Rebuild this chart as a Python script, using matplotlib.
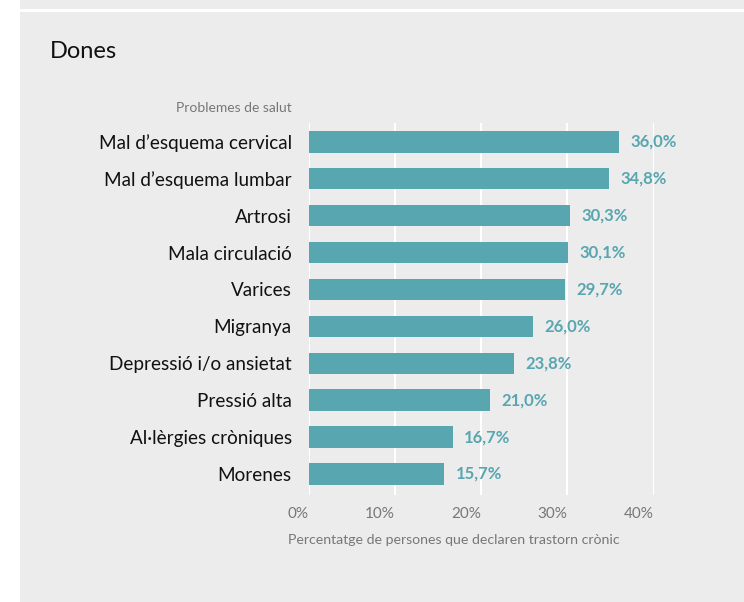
import matplotlib
matplotlib.use("Agg")
import matplotlib.pyplot as plt
from matplotlib.patches import Rectangle

categories = ["Mal d’esquema cervical", "Mal d’esquema lumbar", "Artrosi", "Mala circulació",
              "Varices", "Migranya", "Depressió i/o ansietat", "Pressió alta",
              "Al·lèrgies cròniques", "Morenes"]
values = [36.0, 34.8, 30.3, 30.1, 29.7, 26.0, 23.8, 21.0, 16.7, 15.7]
xticks = [0, 10, 20, 30, 40]
xticklabels = ["0%", "10%", "20%", "30%", "40%"]

plt.rcParams['font.family'] = ['Lato', 'DejaVu Sans']

W, H = 744, 602
fig = plt.figure(figsize=(W/100, H/100), dpi=100)
fig.patch.set_facecolor("white")
bg = "#EBECEB"
fig.patches.append(Rectangle((20/W, 0), 1 - 20/W, 1 - 12/H, transform=fig.transFigure,
                             facecolor=bg, edgecolor="none", zorder=-10))
fig.patches.append(Rectangle((20/W, 1 - 9/H), 1 - 20/W, 9/H, transform=fig.transFigure,
                             facecolor=bg, edgecolor="none", zorder=-10))

left, right = 308.5/W, 653.5/W
top, bottom = 1 - 123/H, 1 - 495/H
ax = fig.add_axes([left, bottom, right - left, top - bottom])
ax.set_facecolor("none")

bar_color = "#58A6B0"
y = list(range(len(categories)))
ax.barh(y, values, height=0.58, color=bar_color, zorder=3)
for yi, v in zip(y, values):
    ax.text(v + 1.35, yi, f"{v:.1f}%".replace(".", ","), va="center", ha="left",
            color=bar_color, fontsize=12, fontweight="bold", clip_on=False)

ax.set_xlim(0, 40)
ax.set_ylim(9.57, -0.51)
ax.set_xticks(xticks)
ax.set_xticklabels(xticklabels, color="#777777", fontsize=11, ha="right")
ax.set_yticks(y)
ax.set_yticklabels(categories, fontsize=13.6, color="#111111")
ax.tick_params(axis="both", length=0)
ax.tick_params(axis="y", pad=12)
ax.tick_params(axis="x", pad=9)
ax.grid(axis="x", color="white", linewidth=1.5, zorder=0)
ax.grid(axis="y", visible=False)
for s in ax.spines.values():
    s.set_visible(False)

fig.text(454/W, 1 - 540/H, "Percentatge de persones que declaren trastorn crònic",
         color="#777777", fontsize=10.2, ha="center", va="center")

fig.text(50/W, 1 - 52/H, "Dones", fontsize=17, color="#111111", va="center", ha="left")
fig.text(292/W, 1 - 108/H, "Problemes de salut", fontsize=10, color="#777777",
         va="center", ha="right")

fig.savefig("out.png", dpi=100, facecolor=fig.get_facecolor())
